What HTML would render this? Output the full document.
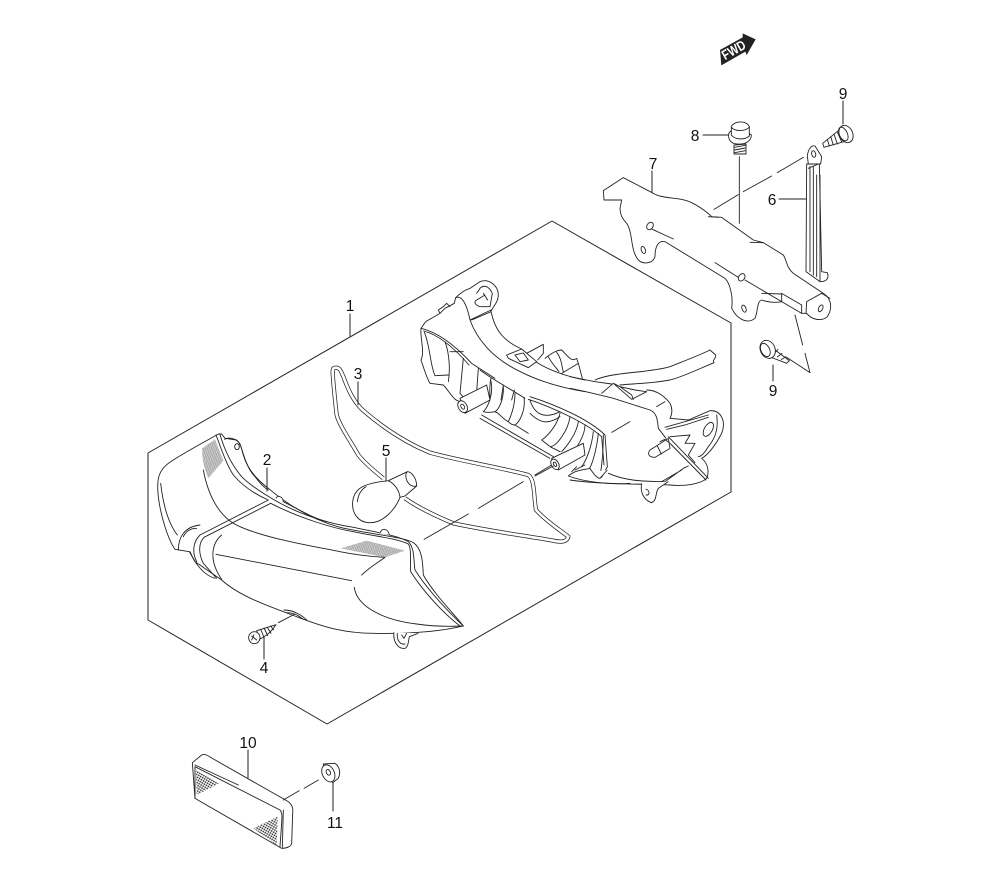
<!DOCTYPE html>
<html><head><meta charset="utf-8"><style>
html,body{margin:0;padding:0;background:#fff}
svg{display:block}
text{font-family:"Liberation Sans",sans-serif;font-size:15.5px;fill:#111;text-anchor:middle}
.l{fill:none;stroke:#222;stroke-linejoin:round;stroke-linecap:round}
.z{fill:none;stroke:#222;stroke-width:2.7;stroke-linejoin:round;stroke-linecap:round}
.f{fill:#fff;stroke:#222;stroke-width:2.7;stroke-linejoin:round}
</style></head><body>
<svg width="1000" height="880" viewBox="0 0 1000 880" xmlns="http://www.w3.org/2000/svg">
<defs>
<pattern id="h" width="3.2" height="3.2" patternUnits="userSpaceOnUse" patternTransform="rotate(-28)"><rect width="3.2" height="1.3" fill="#555"/></pattern>
<pattern id="d" width="7" height="7" patternUnits="userSpaceOnUse" patternTransform="rotate(30)"><circle cx="3.5" cy="3.5" r="2.6" fill="#333"/></pattern>
</defs>
<!-- frame -->
<path class="l" stroke-width="1" d="M148,453 L552,221 L731,323 L731,492 L327,724 L148,620 Z"/>

<!-- gasket 3 -->
<g transform="translate(320 360) scale(.33333)">
<path d="M42,24 C58,20 62,30 70,50 C85,90 100,125 130,152 C180,195 250,245 330,278 C430,305 530,320 625,345 C645,360 640,400 648,450 C680,485 720,510 745,530 C742,545 725,548 700,542 C600,525 490,510 400,490 C340,465 290,440 255,415 M190,355 C165,335 135,310 115,285 C90,240 60,200 50,165 C45,120 40,70 38,40 C38,32 38,26 42,24" fill="none" stroke="#222" stroke-width="12.5" stroke-linejoin="round"/>
<path d="M42,24 C58,20 62,30 70,50 C85,90 100,125 130,152 C180,195 250,245 330,278 C430,305 530,320 625,345 C645,360 640,400 648,450 C680,485 720,510 745,530 C742,545 725,548 700,542 C600,525 490,510 400,490 C340,465 290,440 255,415 M190,355 C165,335 135,310 115,285 C90,240 60,200 50,165 C45,120 40,70 38,40 C38,32 38,26 42,24" fill="none" stroke="#fff" stroke-width="8"/>
<!-- bulb -->
<path class="f" d="M205,362 L262,335 C275,335 290,355 290,378 L255,408 L240,412 C225,450 190,488 150,488 C115,488 95,460 98,425 C103,385 130,370 205,362 Z"/>
<path class="z" d="M262,335 C250,345 262,385 290,378 M205,362 C225,372 238,392 240,412 M112,425 C115,400 125,388 138,380"/>
<path class="z" d="M312,538 L445,462 M475,445 L610,365 M645,345 L695,315"/>
</g>

<!-- lens 2 -->
<g transform="translate(140 420) scale(.33333)">
<path class="f" d="M235,42 C190,68 120,105 85,130 C60,150 48,170 55,230 C62,290 85,360 105,388 L148,395 L165,425 L245,480 C300,530 390,560 470,590 C560,625 620,640 700,640 C800,642 900,635 970,618 C950,590 880,520 850,465 C848,420 845,385 820,368 C790,350 700,345 600,322 C520,300 450,260 385,205 C345,175 320,140 310,105 C305,90 305,75 290,60 L255,55 L245,42 Z"/>
<path d="M186,85 L225,58 L250,122 L205,175 C190,140 186,110 186,85 Z" fill="url(#h)"/>
<path d="M602,385 L680,362 L795,392 L735,412 Z" fill="url(#h)"/>
<path class="z" d="M228,45 C245,90 260,135 280,165 C310,200 350,225 385,240 L180,345 C160,365 155,395 170,425 M240,44 C255,95 275,135 305,170 C330,195 360,215 400,238 C470,280 560,310 640,322 C700,335 770,345 805,365 C825,385 820,420 825,450 C860,505 920,570 970,618"/>
<path class="z" d="M392,250 L192,352 C175,370 175,400 190,430 L230,475 M392,250 C480,295 580,325 640,335 C700,348 770,355 805,372 C815,385 810,425 812,455 C850,515 910,580 960,618 M245,345 C215,370 205,420 245,478"/>
<path class="z" d="M254,58 C265,50 290,55 300,72 C310,100 320,145 345,170 C360,190 375,205 385,210"/>
<ellipse cx="291" cy="80" rx="7" ry="9" class="f"/>
<path class="f" d="M408,235 C412,225 428,228 430,245"/>
<path class="f" d="M720,340 C724,322 745,325 748,345"/>
<path class="z" d="M430,245 C480,270 520,295 560,305 M62,190 C70,260 85,310 112,345 M115,390 C115,350 135,320 180,315 M130,350 C140,330 155,325 170,325 M150,395 C165,430 190,465 225,475"/>
<path class="z" d="M190,150 C205,230 240,295 300,320 C380,355 500,375 600,395 C650,405 700,410 735,412 C710,430 685,445 665,465"/>
<path class="z" d="M228,403 L635,482 M643,502 C650,560 730,600 830,612 C870,618 920,620 965,618"/>
<path class="z" d="M432,570 C460,570 485,585 500,600 M440,578 C465,578 480,590 490,598 M415,608 L465,582"/>
<path class="f" d="M762,637 C758,665 775,688 795,685 C805,680 805,665 808,650 L835,640"/>
<path class="z" d="M772,640 C770,660 780,675 795,672 M785,645 L792,655 L800,640"/>
<!-- screw -->
<path class="f" d="M408,614 L350,632 L358,658 C375,650 395,635 408,614 Z"/>
<path class="z" d="M362,628 L372,652 M372,624 L383,647 M382,622 L393,640 M392,618 L401,630"/>
<ellipse cx="343" cy="653" rx="17" ry="18" class="f"/>
<path class="z" d="M335,648 L350,660 M342,644 L335,660"/>
</g>

<!-- housing A: top-left -->
<g transform="translate(415 275) scale(.33333)">
<path class="z" d="M18,160 L32,140 L75,115 L90,100 L118,85 L122,68 C135,55 150,45 165,40 L195,20 C220,10 250,30 250,60 C250,80 235,95 228,108"/>
<path class="z" d="M75,115 L70,105 L85,95 L95,85 L105,95 M122,68 C140,60 155,85 165,135 L228,105 M170,135 L228,110 M185,55 L195,40 C205,30 220,30 232,55 L225,95 L195,95 C180,90 175,80 185,75 L210,60 M205,55 L218,75"/>
<path class="z" d="M165,135 C185,190 230,250 320,292 C380,322 450,340 510,350 M228,108 C240,170 270,200 320,222 M365,262 C410,290 460,305 510,315"/>
<path class="z" d="M275,240 L320,222 L365,260 L340,278 L280,250 Z M300,240 L325,234 L340,255 L315,260 Z M335,235 L385,208 L385,235 L368,255"/>
<path class="z" d="M390,250 C410,235 425,225 440,225 C460,245 470,262 485,250 L490,265 L440,295 M490,265 L502,310 M425,232 C440,250 440,275 445,290 M400,245 C410,265 425,280 432,290"/>
<!-- opening left -->
<path class="z" d="M18,160 C60,170 110,200 170,265 L240,310 M26,168 C65,178 110,210 162,270"/>
<path class="z" d="M18,160 C15,190 30,230 18,255 C25,275 35,310 45,325 L85,330 C100,345 115,375 130,378"/>
<path class="z" d="M28,172 C45,210 45,270 60,302 L100,300 M90,200 C105,240 105,290 100,320 M105,230 L145,230 M145,250 L135,355 L150,372 M190,280 L185,350 M228,310 C222,335 225,360 225,375 M265,330 L258,375 M298,345 L290,375"/>
</g>

<!-- housing B: opening, ribs, pins -->
<g transform="translate(460 370) scale(.33333)">
<path class="z" d="M60,0 C100,30 140,50 195,85 M210,80 C290,105 390,150 435,195 L442,290 L425,322 M205,88 C285,115 380,160 425,200 L432,285 M65,135 L280,260 M60,145 L270,265"/>
<path class="z" d="M92,30 C102,70 85,110 70,125 C85,130 100,125 105,125 M130,50 C132,90 115,120 105,125 C120,130 125,145 145,155 M165,70 C165,110 150,145 145,155 C155,165 160,165 165,165 M192,82 C197,120 180,155 165,165 L205,190 M210,90 C222,130 250,150 300,125 M210,130 C245,165 270,160 300,140 M300,130 C290,170 260,200 245,210 L268,228 M330,140 C325,180 290,230 270,230 L300,245 M355,155 C350,190 320,230 305,245 M375,165 C375,200 345,240 335,250 M400,185 C395,230 380,270 365,290 M415,190 C410,240 395,290 385,300 M430,195 C430,240 425,290 420,320"/>
<path class="f" d="M325,318 C345,300 370,300 390,295 C400,310 410,325 420,325 L442,300"/>
<path class="z" d="M325,318 C370,335 450,345 510,340 M335,305 L350,290 M345,300 L375,285"/>
<!-- pins -->
<path class="f" d="M0,85 L80,45 L90,90 L15,130 Z"/>
<ellipse cx="8" cy="110" rx="13" ry="19" class="f" transform="rotate(-30 8 110)"/>
<ellipse cx="8" cy="110" rx="5" ry="8" class="z" transform="rotate(-30 8 110)"/>
<path class="f" d="M275,265 L370,220 L375,255 L295,300 Z"/>
<ellipse cx="285" cy="283" rx="11" ry="17" class="f" transform="rotate(-30 285 283)"/>
<ellipse cx="285" cy="283" rx="4" ry="7" class="z" transform="rotate(-30 285 283)"/>
<path class="z" d="M225,318 L280,288 M455,187 L510,155"/>
</g>

<!-- housing C: right end -->
<g transform="translate(570 340) scale(.33333)">
<path class="z" d="M75,120 C130,95 230,100 300,80 C350,60 390,45 420,30 L437,45 C440,55 425,60 432,68 C390,85 340,110 300,120 C250,130 200,130 150,135"/>
<path class="z" d="M0,110 L75,125 L125,132 M0,145 C50,155 90,165 130,175 L240,210"/>
<path class="z" d="M95,160 L130,130 L185,178 L230,155 L195,150 L150,140 L130,130 M230,150 C260,150 285,170 300,190 C310,210 305,225 300,235 L355,240 L420,212 C450,210 470,240 455,280 C440,310 415,345 395,355 C420,375 415,405 410,415 M150,140 L185,165 L190,178 M260,200 L285,185"/>
<path class="z" d="M240,210 C262,220 262,240 265,265 L288,295"/>
<path class="z" d="M285,262 L415,225 M290,268 L345,255 L415,232 M440,225 C445,260 440,290 415,320 C400,345 390,350 385,350"/>
<ellipse cx="415" cy="268" rx="12" ry="23" class="z" transform="rotate(30 415 268)"/>
<path class="z" d="M300,290 L360,285 L345,310 L375,310 L355,345 L375,368"/>
<path class="f" d="M240,330 L295,295 L300,325 L255,352 C235,352 232,340 240,330 Z"/>
<path class="z" d="M262,318 L274,342 M270,305 L285,298 L300,310"/>
<path class="z" d="M295,290 L415,415 M302,312 L408,420"/>
<path class="z" d="M0,420 C80,432 200,432 300,435 C350,440 395,430 410,415 M115,400 C160,420 210,425 285,425 L340,385 L355,378 M275,425 L335,390"/>
<path class="f" d="M215,430 C210,455 220,480 245,488 C262,480 255,460 265,445 L295,425"/>
<path class="z" d="M228,448 C240,450 240,468 228,465"/>
</g>

<!-- bracket, bolts -->
<g transform="translate(590 20) scale(.33333)">
<path d="M390,90 L458,52 L458,40 L497,58 L470,105 L466,95 L394,136 Z" fill="#222"/>
<path class="f" d="M40,512 L100,473 L190,520 C220,538 270,530 305,548 C330,560 355,580 365,590 L395,592 L490,660 L520,668 L580,705 C590,720 590,745 610,760 L700,820 C725,835 728,865 712,890 C695,905 665,900 650,880 L635,880 L575,845 C550,850 530,845 515,840 C500,845 505,870 495,895 C470,915 440,895 425,865 C430,830 420,790 405,775 L225,665 C205,660 195,680 195,710 C190,730 160,735 145,720 C120,690 130,640 110,610 C95,595 90,580 90,565 L95,540 L42,540 Z"/>
<path class="z" d="M355,590 L385,592 M480,667 L520,668 M170,620 L250,657 M375,728 L445,772 M465,780 L575,845 L575,820 L635,855 L635,880 M650,845 L695,820 L720,835 M650,845 L648,880 M515,820 L575,822"/>
<ellipse cx="180" cy="618" rx="9" ry="12" class="f" transform="rotate(35 180 618)"/>
<ellipse cx="455" cy="772" rx="9" ry="12" class="f" transform="rotate(35 455 772)"/>
<ellipse cx="160" cy="690" rx="6" ry="11" class="z" transform="rotate(-20 160 690)"/>
<ellipse cx="462" cy="866" rx="6" ry="11" class="z" transform="rotate(-20 462 866)"/>
<ellipse cx="692" cy="865" rx="6" ry="11" class="z" transform="rotate(25 692 865)"/>
<path class="z" d="M372,568 L445,524 M460,515 L545,468 M562,458 L640,412 M448,410 L448,610 M615,885 L638,975 M645,1000 L660,1058 L590,1012"/>
<!-- strap 6 -->
<path class="f" d="M652,408 C655,385 665,375 675,378 L695,410 L692,432 L655,432 Z"/>
<path class="f" d="M650,432 L648,755 L690,785 C710,785 718,775 712,758 L695,755 L688,432 Z"/>
<path class="z" d="M660,440 L660,755 M670,440 L670,765 M680,465 L680,770 M690,465 L690,785 M655,445 L685,432"/>
<ellipse cx="671" cy="402" rx="6" ry="10" class="z" transform="rotate(-15 671 402)"/>
<!-- bolt 8 -->
<path class="f" d="M432,375 L432,402 L468,402 L468,372 Z"/>
<path class="z" d="M434,382 L466,376 M434,390 L466,384 M434,398 L466,392"/>
<path class="f" d="M416,345 C415,335 425,332 432,330 L470,335 L484,345 C484,360 470,375 440,372 C420,370 415,355 416,345 Z"/>
<path class="f" d="M424,318 C440,300 470,303 478,320 L478,348 C465,360 435,360 424,345 Z"/>
<path class="z" d="M424,322 C435,335 465,335 478,322"/>
<!-- screw 9 top -->
<path class="f" d="M745,332 L698,370 L702,382 L772,362 Z"/>
<path class="z" d="M712,358 L718,378 M722,350 L730,375 M732,342 L742,372 M742,336 L755,366"/>
<ellipse cx="768" cy="342" rx="20" ry="27" class="f" transform="rotate(-25 768 342)"/>
<ellipse cx="760" cy="342" rx="12" ry="22" class="z" transform="rotate(-25 760 342)"/>
<!-- screw 9 lower -->
<path class="f" d="M535,975 L598,1022 L590,1030 L525,1005 Z"/>
<path class="z" d="M538,995 L552,980 M550,1003 L564,988 M562,1011 L576,1000 M574,1019 L588,1010"/>
<ellipse cx="533" cy="988" rx="22" ry="28" class="f" transform="rotate(-25 533 988)"/>
<ellipse cx="526" cy="990" rx="13" ry="21" class="z" transform="rotate(-25 526 990)"/>
</g>
<text transform="translate(736 54) rotate(-30) scale(1 1.25)" style="font-size:11px;fill:#fff;font-weight:bold">FWD</text>

<!-- reflector 10 -->
<g transform="translate(185 750) scale(.33333)">
<path class="f" d="M22,38 L50,15 C60,10 70,18 80,24 L310,155 C322,165 325,175 323,190 L320,280 C318,290 305,295 290,295 L30,145 Z"/>
<path class="z" d="M30,50 L285,180 C295,190 290,210 285,290 M30,45 L160,105 M30,50 L30,145 M295,180 L292,292"/>
<path d="M33,60 L102,100 L35,135 Z" fill="url(#d)"/>
<path d="M205,235 L278,200 L275,285 Z" fill="url(#d)"/>
</g>
<g transform="translate(180 730) scale(.33333)">
<path class="f" d="M430,102 L465,100 C480,110 482,130 475,145 L458,158 L435,130 Z"/>
<ellipse cx="445" cy="130" rx="18" ry="27" class="f" transform="rotate(-25 445 130)"/>
<ellipse cx="445" cy="127" rx="6" ry="9" class="f" transform="rotate(-25 445 127)"/>
<path class="z" d="M310,210 L358,182 M372,175 L415,150"/>
</g>

<!-- leaders -->
<path class="l" stroke-width="1" stroke-linecap="butt" d="M350,314V336M267,468V491M358,382V405M264,637V659M386,458V481M779,199H806M652,171V192M703,135H728M843,101V124M773,365V381M248,750V778M333,783V811"/>
<text x="350" y="311">1</text>
<text x="267" y="465">2</text>
<text x="358" y="379">3</text>
<text x="264" y="673">4</text>
<text x="386" y="456">5</text>
<text x="772" y="205">6</text>
<text x="653" y="169">7</text>
<text x="695" y="141">8</text>
<text x="843" y="99">9</text>
<text x="773" y="396">9</text>
<text x="248" y="748">10</text>
<text x="335" y="828">11</text>
</svg>
</body></html>
